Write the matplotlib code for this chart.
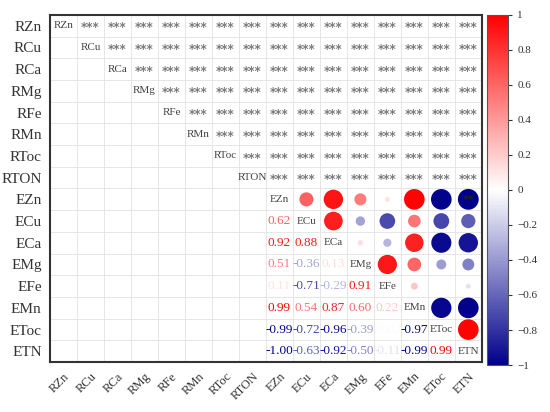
import matplotlib.pyplot as plt
from matplotlib.colors import LinearSegmentedColormap, Normalize

plt.rcParams['font.family'] = ['Liberation Serif', 'DejaVu Serif']

# variable names
r_vars = ['RZn', 'RCu', 'RCa', 'RMg', 'RFe', 'RMn', 'RToc', 'RTON']
e_vars = ['EZn', 'ECu', 'ECa', 'EMg', 'EFe', 'EMn', 'EToc', 'ETN']
labels = r_vars + e_vars

# lower triangle of E block correlations (row i, columns 0..i-1)
e_lower = [
    [],
    [0.62],
    [0.92, 0.88],
    [0.51, -0.36, 0.13],
    [0.11, -0.71, -0.29, 0.91],
    [0.99, 0.54, 0.87, 0.60, 0.22],
    [-0.99, -0.72, -0.96, -0.39, -0.02, -0.97],
    [-1.00, -0.63, -0.92, -0.50, -0.11, -0.99, 0.99],
]

cmap = LinearSegmentedColormap.from_list('rb', ['#00008B', '#FFFFFF', '#FF0000'])
norm = Normalize(-1, 1)

n = len(labels)
fig = plt.figure(figsize=(5.5, 4.12), dpi=100)
ax = fig.add_axes([0.091, 0.121, 0.785, 0.843])
cax = fig.add_axes([0.886, 0.114, 0.038, 0.85])

ax.set_xlim(0, n)
ax.set_ylim(n, 0)

# grid
for k in range(1, n):
    ax.axhline(k, color='#e2e2e2', lw=0.6, zorder=0)
    ax.axvline(k, color='#e2e2e2', lw=0.6, zorder=0)

# diagonal names
for i, name in enumerate(labels):
    ax.text(i + 0.5, i + 0.5, name, ha='center', va='center', fontsize=8, color='#444444')

# significance stars in R rows
for i in range(len(r_vars)):
    for j in range(i + 1, n):
        ax.text(j + 0.5, i + 0.6, '***', ha='center', va='center', fontsize=8.5,
                color='#7a7a7a', family='DejaVu Sans', fontweight='bold')

# E block: numbers below diagonal, circles above
off = len(r_vars)
xs, ys, ss, cs = [], [], [], []
for i, row in enumerate(e_lower):
    for j, v in enumerate(row):
        ax.text(off + j + 0.5, off + i + 0.5, f'{v:.2f}', ha='center', va='center',
                fontsize=9.5, color=cmap(norm(v)))
        d = (3 + 17.8 * abs(v)) * 0.72 if abs(v) > 0.05 else 0
        xs.append(off + i + 0.5)
        ys.append(off + j + 0.5)
        ss.append(d ** 2)
        cs.append(v)
ax.scatter(xs, ys, s=ss, c=cs, cmap=cmap, norm=norm, linewidths=0, zorder=3)
ax.text(off + 7.5, off + 0.55, '**', ha='center', va='center', fontsize=8, color='#222222',
        family='DejaVu Sans', fontweight='bold', zorder=4)

ax.set_xticks([k + 0.5 for k in range(n)])
ax.set_yticks([k + 0.5 for k in range(n)])
ax.set_xticklabels(labels, rotation=45, ha='right', rotation_mode='anchor', fontsize=9, color='#333333')
ax.set_yticklabels(labels, fontsize=11, color='#333333')
ax.tick_params(length=0, pad=6)
ax.tick_params(axis='x', pad=6)
for sp in ax.spines.values():
    sp.set_color('#333333')
    sp.set_linewidth(1.5)

sm = plt.cm.ScalarMappable(cmap=cmap, norm=norm)
cb = fig.colorbar(sm, cax=cax, ticks=[-1, -0.8, -0.6, -0.4, -0.2, 0, 0.2, 0.4, 0.6, 0.8, 1])
cb.ax.set_yticklabels(['\u22121', '\u22120.8', '\u22120.6', '\u22120.4', '\u22120.2', '0',
                       '0.2', '0.4', '0.6', '0.8', '1'])
cb.ax.tick_params(labelsize=8, length=3, colors='#333333')
cb.outline.set_edgecolor('#555555')

fig.savefig('out.png', dpi=100)
